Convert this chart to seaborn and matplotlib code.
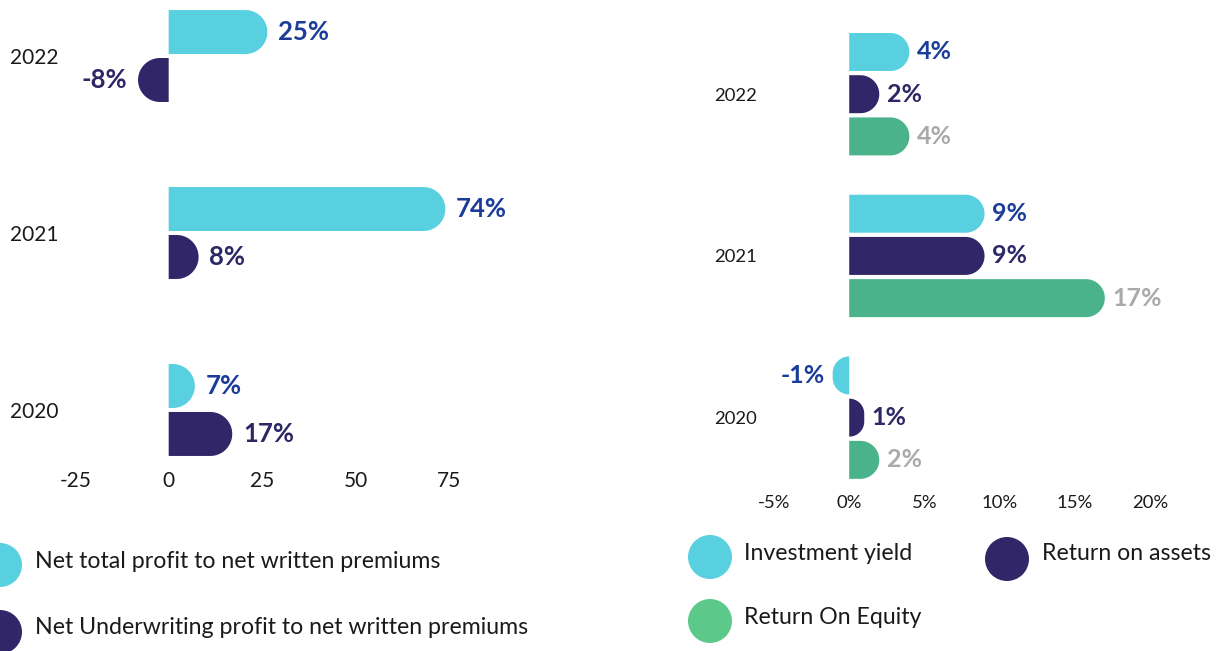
import numpy as np
import pandas as pd
import matplotlib
matplotlib.use("Agg")
import matplotlib.pyplot as plt
import seaborn as sns
from matplotlib.patches import Polygon, Circle

# data
years = ["2022", "2021", "2020"]

profit_metrics = ["Net total profit to net written premiums",
                  "Net Underwriting profit to net written premiums"]
net_total_profit = [26.4, 74, 7]
net_uw_profit = [-8.2, 8, 17]
net_total_labels = ["25%", "74%", "7%"]
net_uw_labels = ["-8%", "8%", "17%"]
left_ticks = [-25, 0, 25, 50, 75]

return_metrics = ["Investment yield", "Return on assets", "Return On Equity"]
investment_yield = [4, 9, -1.1]
return_on_assets = [2, 9, 1]
return_on_equity = [4, 17, 2]
inv_labels = ["4%", "9%", "-1%"]
roa_labels = ["2%", "9%", "1%"]
roe_labels = ["4%", "17%", "2%"]
right_ticks = [-5, 0, 5, 10, 15, 20]

CYAN = "#59d0e0"
NAVY = "#312768"
GREEN = "#4ab38b"
GREEN_LEG = "#5cc98b"
LBL_BLUE = "#1b3d99"
LBL_NAVY = "#2e2766"
LBL_GREY = "#aaaaaa"
TXT = "#1a1a1a"

sns.set_style("white")
plt.rcParams["font.family"] = ["Lato", "DejaVu Sans"]
plt.rcParams["axes.unicode_minus"] = False

W, H = 1222, 651
fig = plt.figure(figsize=(W / 100, H / 100), dpi=100)


def px_axes(left, top, right, bottom):
    return fig.add_axes([left / W, 1 - bottom / H, (right - left) / W, (bottom - top) / H])


def round_bars(ax, sx, sy):
    # swap seaborn's rectangles for bars with a rounded far end
    for p in list(ax.patches):
        x0, w = p.get_x(), p.get_width()
        yc = p.get_y() + p.get_height() / 2
        h = abs(p.get_height())
        base, end = (x0, x0 + w) if abs(x0) < 1e-9 else (x0 + w, x0)
        s = 1 if end >= base else -1
        r = min(h * sy / 2, abs(end - base) * sx)
        rx, ry = r / sx, r / sy
        y0, y1 = yc - h / 2, yc + h / 2
        t1 = np.linspace(-np.pi / 2, 0, 30)
        t2 = np.linspace(0, np.pi / 2, 30)
        cx = end - s * rx
        pts = [(base, y0)]
        pts += list(zip(cx + s * rx * np.cos(t1), y0 + ry + ry * np.sin(t1)))
        pts += list(zip(cx + s * rx * np.cos(t2), y1 - ry + ry * np.sin(t2)))
        pts += [(base, y1)]
        ax.add_patch(Polygon(pts, closed=True, facecolor=p.get_facecolor(), edgecolor="none"))
        p.remove()


def label_bars(ax, vals, labels, colors, offsets, dx, size):
    for vs, ls, c, off in zip(vals, labels, colors, offsets):
        for i, (v, t) in enumerate(zip(vs, ls)):
            ax.text(v + (dx if v >= 0 else -dx), i + off, t, ha="left" if v >= 0 else "right",
                    va="center", fontsize=size, fontweight="bold", color=c)


# ---- left panel
df_l = pd.DataFrame({
    "year": years * 2,
    "metric": [profit_metrics[0]] * 3 + [profit_metrics[1]] * 3,
    "value": net_total_profit + net_uw_profit,
})
ax1 = px_axes(64, 10, 479, 456)
sns.barplot(data=df_l, x="value", y="year", hue="metric", order=years, hue_order=profit_metrics,
            palette=[CYAN, NAVY], saturation=1, orient="h", width=0.542, gap=0.083,
            legend=False, ax=ax1)
ax1.set_xlim(-28, 83)
ax1.set_ylim(2.26, -0.26)
round_bars(ax1, 415 / 111, 446 / 2.52)
label_bars(ax1, [net_total_profit, net_uw_profit], [net_total_labels, net_uw_labels],
           [LBL_BLUE, LBL_NAVY], [-0.1355, 0.1355], 2.9, 18.5)
ax1.set_xticks(left_ticks)
ax1.set_xlabel("")
ax1.set_ylabel("")
ax1.tick_params(axis="x", labelsize=15, pad=10.5, length=0, colors=TXT)
ax1.tick_params(axis="y", labelsize=15, pad=4, length=0, colors=TXT)
sns.despine(ax=ax1, left=True, bottom=True)

# ---- right panel
df_r = pd.DataFrame({
    "year": years * 3,
    "metric": [m for m in return_metrics for _ in years],
    "value": investment_yield + return_on_assets + return_on_equity,
})
ax2 = px_axes(759, 30, 1180, 482)
sns.barplot(data=df_r, x="value", y="year", hue="metric", order=years, hue_order=return_metrics,
            palette=[CYAN, NAVY, GREEN], saturation=1, orient="h", width=0.783, gap=0.1,
            legend=False, ax=ax2)
ax2.set_xlim(-6, 22)
ax2.set_ylim(2.398, -0.397)
round_bars(ax2, 421 / 28, 452 / 2.795)
label_bars(ax2, [investment_yield, return_on_assets, return_on_equity],
           [inv_labels, roa_labels, roe_labels], [LBL_BLUE, LBL_NAVY, LBL_GREY],
           [-0.261, 0, 0.261], 0.5, 18)
ax2.set_xticks(right_ticks)
ax2.set_xticklabels([f"{t}%" for t in right_ticks])
ax2.set_xlabel("")
ax2.set_ylabel("")
ax2.tick_params(axis="x", labelsize=13.3, pad=9, length=0, colors=TXT)
ax2.tick_params(axis="y", labelsize=13.3, pad=1.5, length=0, colors=TXT)
sns.despine(ax=ax2, left=True, bottom=True)

# ---- legends, drawn in pixel space
leg = fig.add_axes([0, 0, 1, 1])
leg.set_xlim(0, W)
leg.set_ylim(H, 0)
leg.axis("off")
leg_items = [
    (0, 565, 22, CYAN, 35, 561, profit_metrics[0]),
    (0, 632, 22, NAVY, 35, 628, profit_metrics[1]),
    (710, 557, 22, CYAN, 744, 553, return_metrics[0]),
    (1007, 559, 22, NAVY, 1042, 554, return_metrics[1]),
    (710, 621, 22, GREEN_LEG, 744, 617, return_metrics[2]),
]
for cx, cy, r, c, tx, ty, txt in leg_items:
    leg.add_patch(Circle((cx, cy), r, facecolor=c, edgecolor="none"))
    leg.text(tx, ty, txt, fontsize=16.7, color=TXT, ha="left", va="center")

fig.savefig("out.png", dpi=100)
